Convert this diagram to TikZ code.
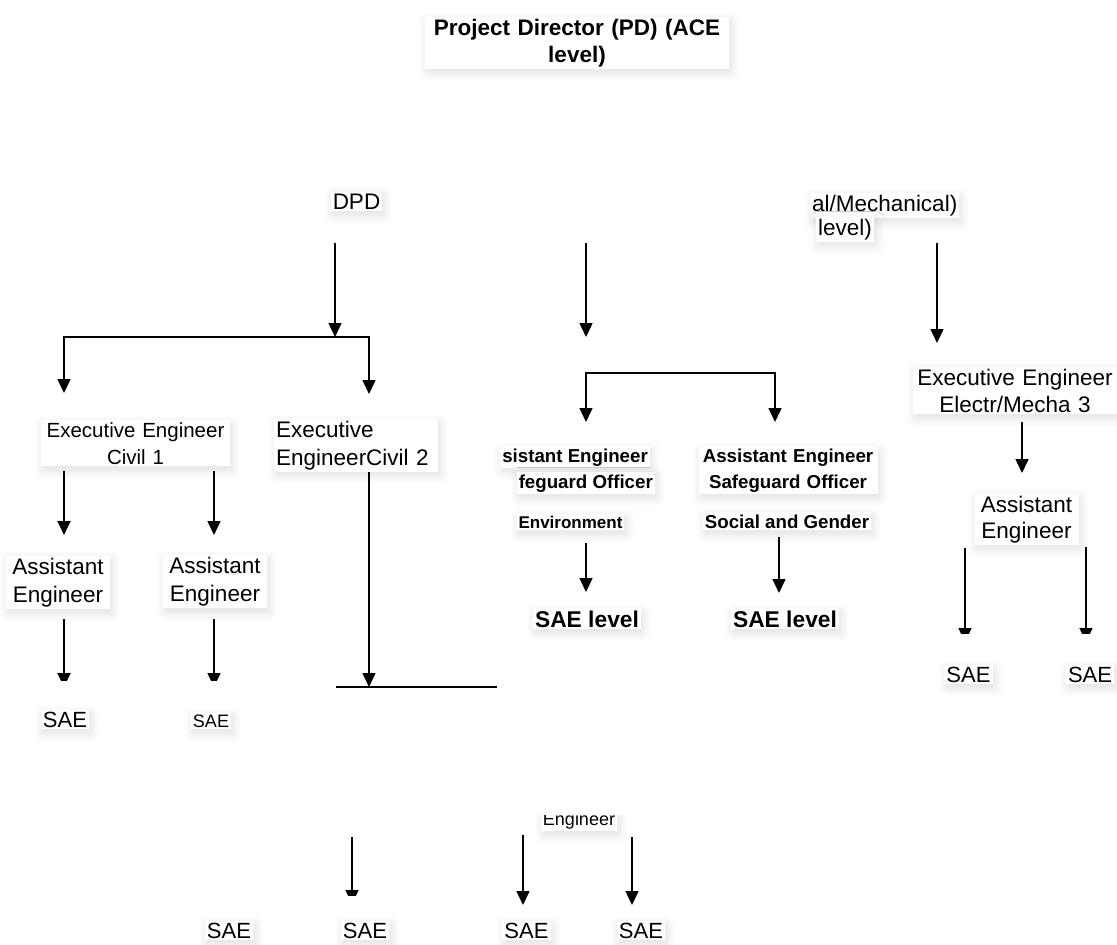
\documentclass[tikz,border=0pt]{standalone}
\usepackage{fontspec}
\setmainfont{Liberation Sans}
\usetikzlibrary{arrows.meta,shadows.blur}

\tikzset{
  glow/.style={blur shadow={shadow xshift=2pt,shadow yshift=-4pt,shadow blur radius=9pt,shadow blur steps=12,shadow opacity=13}},
  lbl/.style={font=\fontsize{22.5}{28}\selectfont,inner sep=2pt,fill=white,glow},
  bld/.style={lbl,font=\bfseries\fontsize{18.7}{26}\selectfont},
  arr/.style={line width=1.5pt,-{Triangle[length=14pt,width=13pt]}},
  twin/.style={line width=1.5pt,{Triangle[length=14pt,width=13pt]}-{Triangle[length=14pt,width=13pt]}},
  rule/.style={line width=1.5pt},
}

\begin{document}
\begin{tikzpicture}[x=1pt,y=-1pt]
  \useasboundingbox (0,0) rectangle (1117,945);

  % Points where the connectors start and end
  \coordinate (dpd-o) at (335,243);
  \coordinate (dpd-i) at (335,337);
  \coordinate (ee1-i) at (64,393);
  \coordinate (ee2-i) at (369,394);
  \coordinate (mid-o) at (586,243);
  \coordinate (mid-i) at (586,337);
  \coordinate (mech-o) at (937,243);
  \coordinate (mech-i) at (937,343);
  \coordinate (brk) at (680,373);
  \coordinate (env-i) at (586,422);
  \coordinate (soc-i) at (775,422);
  \coordinate (ee1-o1) at (64,471);
  \coordinate (ae1-i) at (64,535);
  \coordinate (ee1-o2) at (214,471);
  \coordinate (ae2-i) at (214,535);
  \coordinate (ee2-o) at (369,471);
  \coordinate (ee2-i2) at (369,687);
  \coordinate (bar-l) at (336,687);
  \coordinate (bar-r) at (497,687);
  \coordinate (env-o) at (586,543);
  \coordinate (env-l) at (586,592);
  \coordinate (soc-o) at (779,537);
  \coordinate (soc-l) at (779,593);
  \coordinate (ee3-o) at (1022,422);
  \coordinate (ae3-i) at (1022,473);

  % Connectors
  \draw [arr] (dpd-o) -- (dpd-i);
  \draw [twin] (ee1-i) |- (dpd-i) -| (ee2-i);
  \draw [arr] (mid-o) -- (mid-i);
  \draw [arr] (mech-o) -- (mech-i);
  \draw [twin] (env-i) |- (brk) -| (soc-i);
  \draw [arr] (ee1-o1) -- (ae1-i);
  \draw [arr] (ee1-o2) -- (ae2-i);
  \draw [arr] (ee2-o) -- (ee2-i2);
  \draw [rule] (bar-l) -- (bar-r);
  \draw [arr] (env-o) -- (env-l);
  \draw [arr] (soc-o) -- (soc-l);
  \draw [arr] (ee3-o) -- (ae3-i);

  % Arrows whose heads are cut off
  \begin{scope}
    \clip (0,600) rectangle (300,680);
    \draw [arr] (64,619) -- (64,687);
    \draw [arr] (214,619) -- (214,687);
  \end{scope}
  \begin{scope}
    \clip (900,540) rectangle (1117,633);
    \draw [arr] (965,548) -- (965,642);
    \draw [arr] (1086,547) -- (1086,642);
  \end{scope}
  \begin{scope}
    \clip (300,830) rectangle (700,895);
    \draw [arr] (352,837) -- (352,904);
  \end{scope}
  \draw [arr] (523,835) -- (523,905);
  \draw [arr] (632,837) -- (632,905);

  % Top of the chart
  \node [lbl,font=\bfseries\fontsize{22.5}{27}\selectfont,text width=300pt,align=center,anchor=base] (pd) at (577,35) {Project Director (PD) (ACE\\level)};
  \node [lbl,anchor=base] (dpd) at (356.5,209) {DPD};
  \node [lbl,anchor=base west] (mech) at (810,211) {al/Mechanical)};
  \node [lbl,anchor=base west] (mechlvl) at (816,235) {level)};

  % Civil side
  \node [lbl,font=\fontsize{20.5}{27}\selectfont,text width=185pt,align=center,anchor=base] (ee1) at (135.5,437) {Executive Engineer\\Civil 1};
  \node [lbl,text width=160pt,align=left,anchor=base west] (ee2) at (274,437) {Executive\\EngineerCivil 2};
  \node [lbl,font=\fontsize{22.5}{28.5}\selectfont,text width=100pt,align=center,anchor=base] (ae1) at (58,574) {Assistant\\Engineer};
  \node [lbl,font=\fontsize{22.5}{28.5}\selectfont,text width=100pt,align=center,anchor=base] (ae2) at (215,573) {Assistant\\Engineer};
  \node [lbl,font=\fontsize{22}{26}\selectfont,anchor=base] (sae1) at (65,727) {SAE};
  \node [lbl,font=\fontsize{18}{22}\selectfont,anchor=base] (sae2) at (211,727) {SAE};

  % Safeguard officers
  \node [bld,anchor=base east] (aeenv) at (650,462) {sistant Engineer};
  \node [bld,anchor=base east] (sgenv) at (655,488) {feguard Officer};
  \node [bld,font=\bfseries\fontsize{17}{22}\selectfont,anchor=base] (env) at (570.5,528) {Environment};
  \node [bld,text width=175pt,align=center,anchor=base] (aesoc) at (788,462) {Assistant Engineer\\Safeguard Officer};
  \node [bld,anchor=base] (soc) at (787,528) {Social and Gender};
  \node [bld,font=\bfseries\fontsize{22.8}{28}\selectfont,anchor=base] (saeenv) at (587,627) {SAE level};
  \node [bld,font=\bfseries\fontsize{22.8}{28}\selectfont,anchor=base] (saesoc) at (785,627) {SAE level};

  % Electrical / mechanical side
  \node [lbl,font=\fontsize{22.5}{27}\selectfont,text width=200pt,align=center,anchor=base] (ee3) at (1015,385) {Executive Engineer\\Electr/Mecha 3};
  \node [lbl,font=\fontsize{22.5}{26}\selectfont,text width=100pt,align=center,anchor=base] (ae3) at (1026.5,512) {Assistant\\Engineer};
  \node [lbl,font=\fontsize{22}{26}\selectfont,anchor=base] (sae3) at (968.5,682) {SAE};
  \node [lbl,font=\fontsize{22}{26}\selectfont,anchor=base] (sae4) at (1090,682) {SAE};

  % Bottom row
  \begin{scope}
    \clip (500,815) rectangle (700,850);
    \node [lbl,font=\fontsize{18}{22}\selectfont,anchor=base] (eng) at (579,825) {Engineer};
  \end{scope}
  \foreach \n/\x in {5/229,6/365,7/526.5,8/641} {
    \node [lbl,font=\fontsize{22}{26}\selectfont,anchor=base] (sae\n) at (\x,938) {SAE};
  }
\end{tikzpicture}
\end{document}
